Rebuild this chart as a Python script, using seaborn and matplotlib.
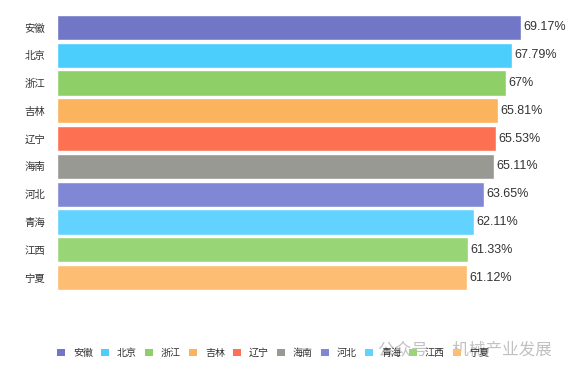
import numpy as np
import pandas as pd
import matplotlib.pyplot as plt
import seaborn as sns
from matplotlib.patches import Patch

# Data
provinces = ["安徽", "北京", "浙江", "吉林", "辽宁", "海南", "河北", "青海", "江西", "宁夏"]
values = [69.17, 67.79, 67, 65.81, 65.53, 65.11, 63.65, 62.11, 61.33, 61.12]
value_labels = ["69.17%", "67.79%", "67%", "65.81%", "65.53%", "65.11%", "63.65%", "62.11%", "61.33%", "61.12%"]
colors = ["#7276c6", "#4ccefd", "#8fcf68", "#fbb35e", "#fd7052",
          "#999993", "#8088d5", "#62d3fe", "#98d576", "#fdbd72"]

df = pd.DataFrame({"province": provinces, "value": values})

sns.set_style("white")
plt.rcParams['font.family'] = ['Noto Sans CJK SC', 'DejaVu Sans']

fig = plt.figure(figsize=(5.72, 3.73), dpi=100)
ax = fig.add_axes([57 / 572, 1 - 291.5 / 373, 503 / 572, 278 / 373])

sns.barplot(data=df, y="province", x="value", hue="province", palette=colors,
            orient="h", width=0.9, legend=False, ax=ax, saturation=1)

# value labels at bar ends
for i, (v, lab) in enumerate(zip(values, value_labels)):
    ax.text(v + 0.35, i, lab, va="center", ha="left", fontsize=9,
            color="#333333", family=["Liberation Sans", "DejaVu Sans"])

ax.set_xlim(0, 75)
ax.set_ylim(9.5, -0.5)
ax.set_xlabel("")
ax.set_ylabel("")
ax.set_xticks([])
ax.tick_params(axis="y", length=0, pad=8.5, labelsize=7.5, labelcolor="#333333")
for s in ax.spines.values():
    s.set_visible(False)

# legend
handles = [Patch(facecolor=c, edgecolor="none", label=p) for p, c in zip(provinces, colors)]
fig.legend(handles=handles, loc="center", bbox_to_anchor=(273 / 572, 1 - 353 / 373),
           ncol=10, frameon=False, fontsize=7.2, handlelength=0.8, handleheight=0.8,
           handletextpad=0.8, columnspacing=0.8, labelcolor="#333333")

# watermark
fig.text(552 / 572, 1 - 350 / 373, "公众号 · 机械产业发展", ha="right", va="center",
         fontsize=12, color="#999999", alpha=0.6)

fig.savefig("out.png", dpi=100)
